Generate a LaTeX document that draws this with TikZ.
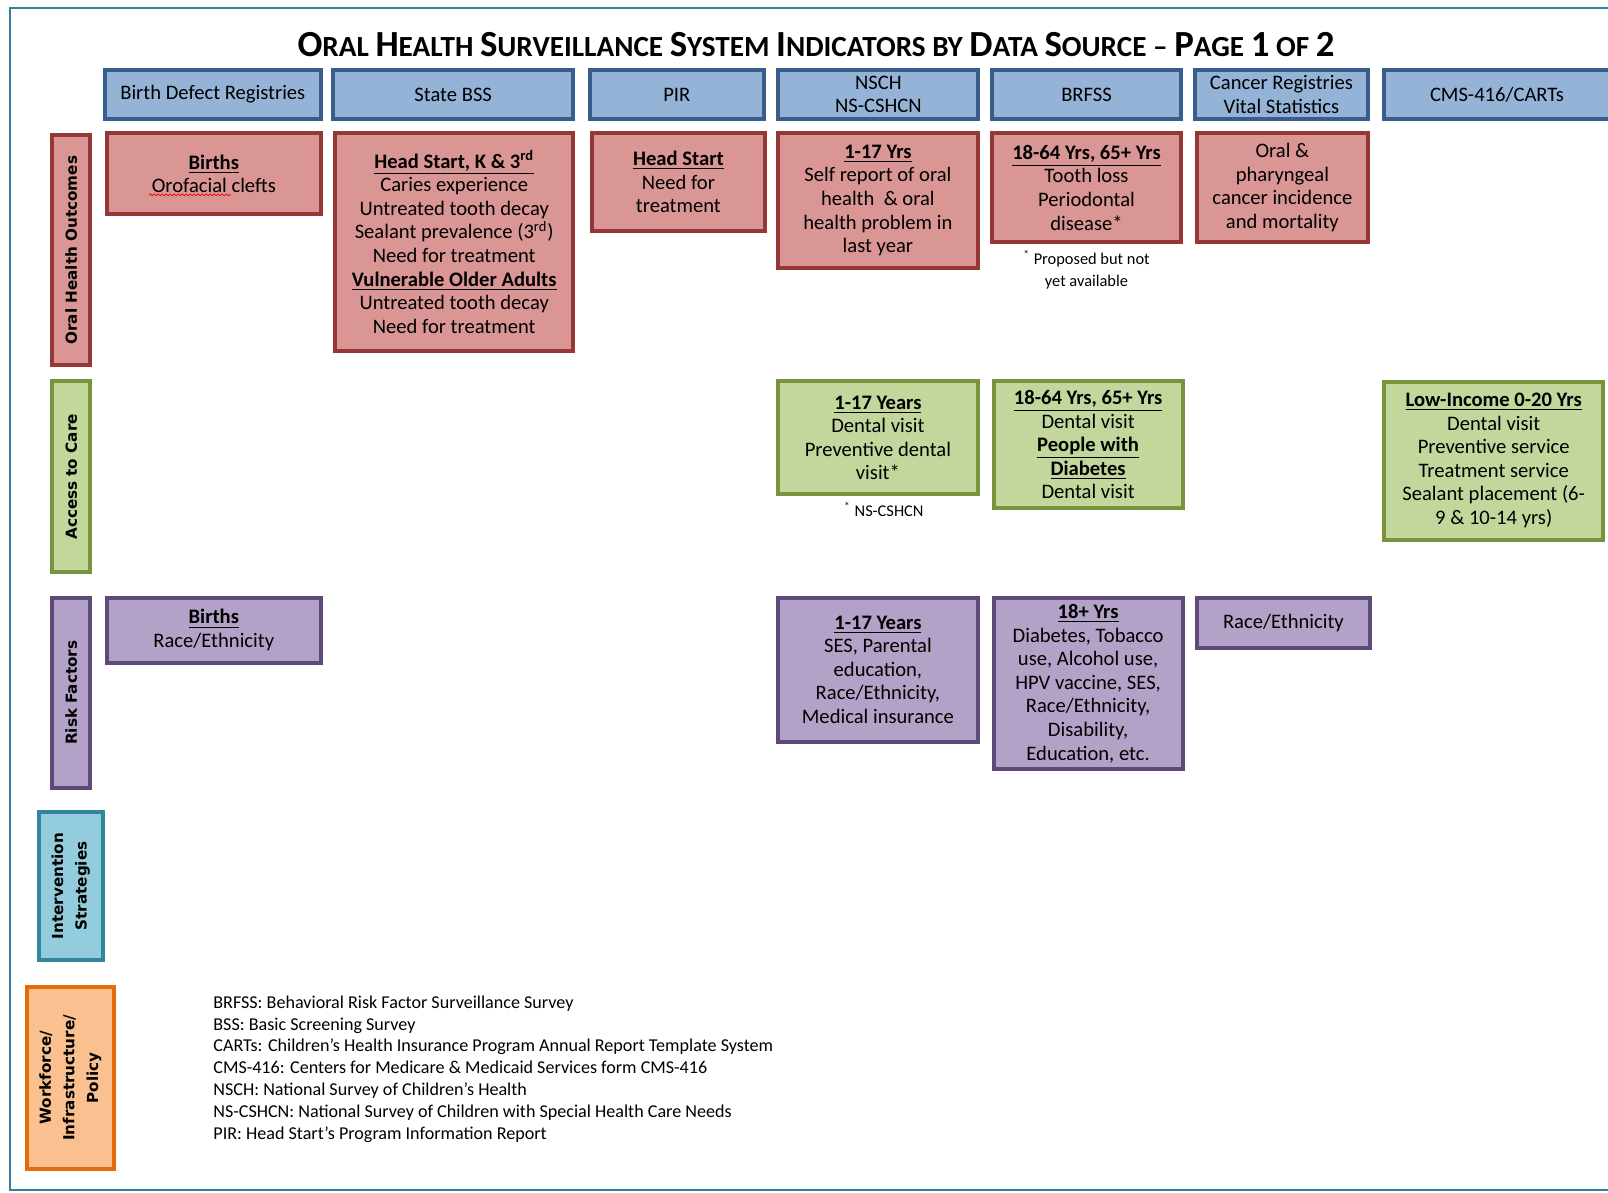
\documentclass[tikz,border=0pt]{standalone}
\usepackage{fontspec}
\setmainfont{Carlito}
\newfontfamily\rowfont{DejaVu Sans}
\usetikzlibrary{positioning}
\usetikzlibrary{decorations.pathmorphing}

\definecolor{hdrfill}{HTML}{95B3D7}
\definecolor{hdrdraw}{HTML}{385D8A}
\definecolor{outfill}{HTML}{D99694}
\definecolor{outdraw}{HTML}{953735}
\definecolor{accfill}{HTML}{C3D69B}
\definecolor{accdraw}{HTML}{77933C}
\definecolor{riskfill}{HTML}{B3A2C7}
\definecolor{riskdraw}{HTML}{5F497A}
\definecolor{intfill}{HTML}{93CDDD}
\definecolor{intdraw}{HTML}{31859C}
\definecolor{wipfill}{HTML}{FAC090}
\definecolor{wipdraw}{HTML}{E46C0A}
\definecolor{framedraw}{HTML}{31849B}

\tikzset{cell/.style={draw, line width=2pt, align=center, inner sep=0pt,
  font=\fontsize{10.3}{11.8}\selectfont},
  srcbox/.style={cell, fill=hdrfill, draw=hdrdraw, minimum height=24.6pt},
  outbox/.style={cell, fill=outfill, draw=outdraw},
  accbox/.style={cell, fill=accfill, draw=accdraw},
  riskbox/.style={cell, fill=riskfill, draw=riskdraw},
  rowbox/.style={draw, line width=2pt, rotate=90, align=center, inner sep=0pt,
  font=\rowfont\bfseries\fontsize{7.6}{11.8}\selectfont},
  fnote/.style={align=center, inner sep=0pt, font=\fontsize{8.2}{11.3}\selectfont},
  wavy/.style={red, line width=0.4pt, decorate, decoration={snake, amplitude=0.5pt, segment length=2pt}}}

\newcommand{\hd}[1]{\underline{\textbf{#1}}}
\newcommand{\bigc}[1]{{\fontsize{18.4}{18}\selectfont #1}}

\begin{document}
\begin{tikzpicture}[x=0.5pt, y=-0.5pt]
\useasboundingbox (0,0) rectangle (1608,1193);
\clip (0,0) rectangle (1608,1193);
\draw[framedraw, line width=1.3pt] (10,8) rectangle (1650,1190);

\node[font=\bfseries\fontsize{14.6}{16}\selectfont] (title) at (816,45)
  {\bigc{O}RAL \bigc{H}EALTH \bigc{S}URVEILLANCE \bigc{S}YSTEM \bigc{I}NDICATORS BY \bigc{D}ATA \bigc{S}OURCE – \bigc{P}AGE \bigc{1} OF \bigc{2}};

% data sources
\node[srcbox, minimum width=108.2pt] (srcBDR) at (212.8,94.4) {Birth Defect Registries};
\node[srcbox, minimum width=120.1pt] (srcBSS) at (453.2,94.4) {State BSS};
\node[srcbox, minimum width=87.2pt] (srcPIR) at (676.8,94.4) {PIR};
\node[srcbox, minimum width=100pt] (srcNSCH) at (878.4,94.4) {NSCH\\NS-CSHCN};
\node[srcbox, minimum width=94.9pt] (srcBRFSS) at (1086.5,94.4) {BRFSS};
\node[srcbox, minimum width=86.6pt] (srcCancer) at (1281.4,94.4) {Cancer Registries\\Vital Statistics};
\node[srcbox, minimum width=112.8pt] (srcCMS) at (1497,94.4) {CMS-416/CARTs};

% rows
\node[rowbox, fill=outfill, draw=outdraw, minimum width=114.9pt, minimum height=19pt] (rowOut) at (71.3,250.2) {Oral Health Outcomes};
\node[rowbox, fill=accfill, draw=accdraw, minimum width=95.5pt, minimum height=19pt] (rowAcc) at (71.3,476.9) {Access to Care};
\node[rowbox, fill=riskfill, draw=riskdraw, minimum width=94.9pt, minimum height=19pt] (rowRisk) at (71.3,692.7) {Risk Factors};
\node[rowbox, fill=intfill, draw=intdraw, minimum width=73.9pt, minimum height=31.9pt] (rowInt) at (70.8,886) {Intervention\\Strategies};
\node[rowbox, fill=wipfill, draw=wipdraw, minimum width=91.3pt, minimum height=43.7pt] (rowWIP) at (70.3,1077.8) {Workforce/\\Infrastructure/\\Policy};

\node[outbox, minimum width=107.2pt, minimum height=40.5pt] (outBDR) at (213.8,173.9) {\hd{Births}\\Orofacial clefts};
\draw[wavy] ([xshift=-32.4pt,yshift=-10.5pt]outBDR.center) -- ([xshift=8.6pt,yshift=-10.5pt]outBDR.center);
\node[outbox, minimum width=119.2pt, minimum height=108.8pt] (outBSS) at (454.2,242) {\hd{Head Start, K \& 3\textsuperscript{rd}}\\Caries experience\\Untreated tooth decay\\Sealant prevalence (3\textsuperscript{rd})\\Need for treatment\\\hd{Vulnerable Older Adults}\\Untreated tooth decay\\Need for treatment};
\node[outbox, minimum width=86.7pt, minimum height=48.8pt] (outPIR) at (678.4,182) {\hd{Head Start}\\Need for\\treatment};
\node[outbox, minimum width=99.6pt, minimum height=67.2pt] (outNSCH) at (877.9,200.5) {\hd{1-17 Yrs}\\Self report of oral\\health \ \& oral\\health problem in\\last year};
\node[outbox, minimum width=94.9pt, minimum height=54.4pt] (outBRFSS) at (1086.5,187.7) {\hd{18-64 Yrs, 65+ Yrs}\\Tooth loss\\Periodontal\\disease*};
\node[outbox, minimum width=85.7pt, minimum height=54.4pt] (outCancer) at (1282.4,187.7) {Oral \&\\pharyngeal\\cancer incidence\\and mortality};
\node[fnote, below=3pt of outBRFSS] (noteBRFSS) {\textsuperscript{*} Proposed but not\\yet available};

\node[accbox, minimum width=99.6pt, minimum height=56.5pt] (accNSCH) at (877.9,437.9) {\hd{1-17 Years}\\Dental visit\\Preventive dental\\visit*};
\node[accbox, minimum width=94.4pt, minimum height=63.2pt] (accBRFSS) at (1088.1,444.6) {\hd{18-64 Yrs, 65+ Yrs}\\Dental visit\\\hd{People with}\\\hd{Diabetes}\\Dental visit};
\node[accbox, minimum width=109.3pt, minimum height=79pt] (accCMS) at (1493.7,460.5) {\hd{Low-Income 0-20 Yrs}\\Dental visit\\Preventive service\\Treatment service\\Sealant placement (6-\\9 \& 10-14 yrs)};
\node[fnote, below=3pt of accNSCH, xshift=3pt] (noteNSCH) {\textsuperscript{*} NS-CSHCN};

\node[riskbox, minimum width=107.2pt, minimum height=32.4pt] (riskBDR) at (213.8,630.2) {\hd{Births}\\Race/Ethnicity};
\node[riskbox, minimum width=99.6pt, minimum height=71.9pt] (riskNSCH) at (877.9,669.7) {\hd{1-17 Years}\\SES, Parental\\education,\\Race/Ethnicity,\\Medical insurance};
\node[riskbox, minimum width=94.4pt, minimum height=85.7pt] (riskBRFSS) at (1088.1,683.5) {\hd{18+ Yrs}\\Diabetes, Tobacco\\use, Alcohol use,\\HPV vaccine, SES,\\Race/Ethnicity,\\Disability,\\Education, etc.};
\node[riskbox, minimum width=86.6pt, minimum height=25.2pt] (riskCancer) at (1283.4,623) {Race/Ethnicity};

\node[anchor=west, align=left, inner sep=0pt, font=\fontsize{9.05}{10.9}\selectfont] (abbrev) at (213,1069)
  {BRFSS: Behavioral Risk Factor Surveillance Survey\\
   BSS: Basic Screening Survey\\
   CARTs: Children’s Health Insurance Program Annual Report Template System\\
   CMS-416: Centers for Medicare \& Medicaid Services form CMS-416\\
   NSCH: National Survey of Children’s Health\\
   NS-CSHCN: National Survey of Children with Special Health Care Needs\\
   PIR: Head Start’s Program Information Report};
\end{tikzpicture}
\end{document}
